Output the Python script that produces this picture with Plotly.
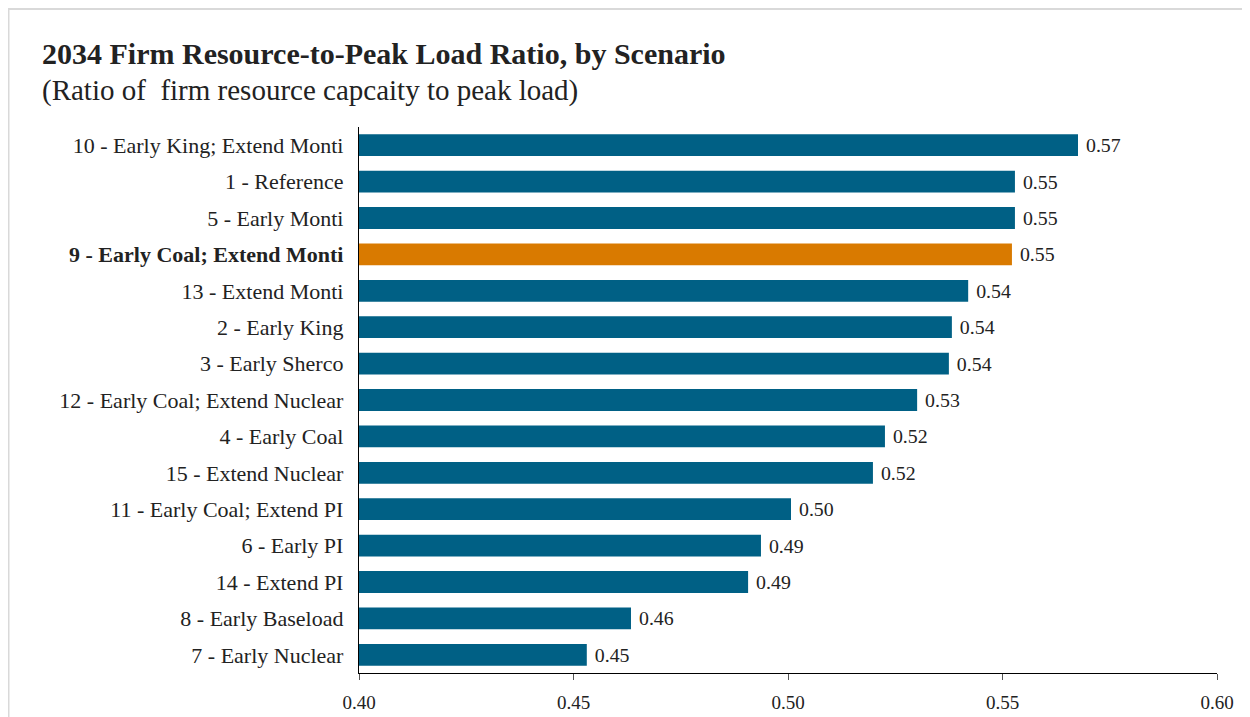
import plotly.graph_objects as go

scenarios = [
    "10 - Early King; Extend Monti",
    "1 - Reference",
    "5 - Early Monti",
    "9 - Early Coal; Extend Monti",
    "13 - Extend Monti",
    "2 - Early King",
    "3 - Early Sherco",
    "12 - Early Coal; Extend Nuclear",
    "4 - Early Coal",
    "15 - Extend Nuclear",
    "11 - Early Coal; Extend PI",
    "6 - Early PI",
    "14 - Extend PI",
    "8 - Early Baseload",
    "7 - Early Nuclear",
]
ratios = [0.5676, 0.5529, 0.5529, 0.5522, 0.5420, 0.5382, 0.5375, 0.5301,
          0.5226, 0.5198, 0.5007, 0.4937, 0.4907, 0.4634, 0.4531]
highlight = "9 - Early Coal; Extend Monti"
x_ticks = [0.40, 0.45, 0.50, 0.55, 0.60]

BLUE = "#006085"
ORANGE = "#D97A00"
FONT = "Liberation Serif"

L, R, T, B = 351, 41, 119, 50
PW = 1250 - L - R
PH = 717 - T - B

colors = [ORANGE if s == highlight else BLUE for s in scenarios]
ticktext = [f"<b>{s}</b>" if s == highlight else s for s in scenarios]

fig = go.Figure(go.Bar(
    x=ratios, y=scenarios, orientation="h",
    marker=dict(color=colors, line=dict(width=0)),
    width=0.6,
    text=[f" {v:.2f}" for v in ratios], textposition="outside",
    textfont=dict(family=FONT, size=20, color="#222222"),
    cliponaxis=False,
))

fig.update_layout(
    width=1250, height=717,
    margin=dict(l=L, r=R, t=T, b=B),
    paper_bgcolor="white", plot_bgcolor="white",
    showlegend=False,
    font=dict(family=FONT, color="#222222"),
    xaxis=dict(range=[0.40, 0.60], tickvals=x_ticks,
               ticktext=[f"{v:.2f}" for v in x_ticks],
               showgrid=False, zeroline=False,
               showline=True, linecolor="#000000", linewidth=1.3,
               ticks="outside", ticklen=6, tickcolor="#555555",
               ticklabelstandoff=6,
               tickfont=dict(family=FONT, size=19, color="#222222")),
    yaxis=dict(categoryorder="array", categoryarray=scenarios[::-1],
               tickvals=scenarios, ticktext=ticktext,
               autorange=True,
               showgrid=False, zeroline=False,
               showline=True, linecolor="#000000", linewidth=1.3,
               ticks="", ticklabelstandoff=10,
               tickfont=dict(family=FONT, size=22, color="#222222")),
    bargap=0.4,
)

fig.add_annotation(text="<b>2034 Firm Resource-to-Peak Load Ratio, by Scenario</b>",
                   xref="paper", yref="paper", x=(32 - L) / PW, y=(T + PH - 45) / PH,
                   xanchor="left", yanchor="middle", showarrow=False,
                   font=dict(family=FONT, size=30, color="#222222"))
fig.add_annotation(text="(Ratio of  firm resource capcaity to peak load)",
                   xref="paper", yref="paper", x=(32 - L) / PW, y=(T + PH - 82) / PH,
                   xanchor="left", yanchor="middle", showarrow=False,
                   font=dict(family=FONT, size=29, color="#222222"))

fig.add_shape(type="rect", xref="paper", yref="paper",
              x0=(0 - L) / PW, x1=1.2, y0=-0.3, y1=(T + PH - 0) / PH,
              line=dict(color="#D9D9D9", width=3), fillcolor="rgba(0,0,0,0)", layer="below")

fig.write_html("out.html")
